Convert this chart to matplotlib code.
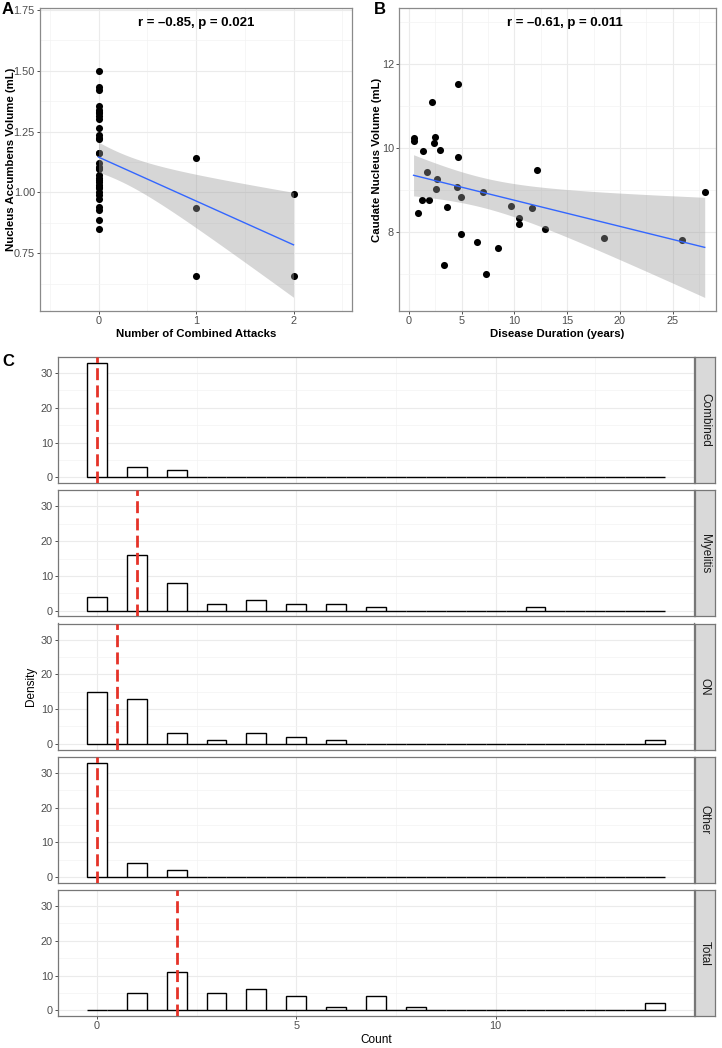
import numpy as np
import matplotlib
matplotlib.use('Agg')
import matplotlib.pyplot as plt
from math import lgamma, pi, exp, sqrt

plt.rcParams['font.family'] = ['Liberation Sans', 'DejaVu Sans']

# ---------------- data ----------------
# Panel A
attacks = [0] * 33 + [1] * 3 + [2] * 2
accumbens = [1.50, 1.433, 1.42, 1.356, 1.34, 1.326, 1.312, 1.30, 1.266, 1.236,
             1.225, 1.16, 1.12, 1.106, 1.096, 1.07, 1.058, 1.044, 1.03, 1.016,
             1.003, 0.989, 0.972, 0.941, 0.927, 0.886, 0.85,
             1.10, 1.05, 1.33, 1.22, 1.02, 1.16,
             1.14, 0.935, 0.655,
             0.995, 0.655]
label_a = "r = \u20130.85, p = 0.021"

# Panel B
duration = [0.44, 0.51, 0.85, 1.29, 1.20, 1.70, 1.89, 2.21, 2.46, 2.40, 2.65,
            2.59, 2.94, 3.35, 3.60, 4.61, 4.61, 4.58, 4.89, 4.89, 6.44, 7.04,
            7.26, 8.40, 9.69, 10.45, 10.45, 11.68, 12.12, 12.88, 18.47, 25.88, 28.03]
caudate = [10.24, 10.16, 8.45, 9.92, 8.77, 9.42, 8.75, 11.10, 10.25, 10.11, 9.26,
           9.03, 9.94, 7.21, 8.60, 11.53, 9.79, 9.08, 8.83, 7.96, 7.76, 8.94,
           7.00, 7.62, 8.62, 8.33, 8.19, 8.57, 9.48, 8.08, 7.85, 7.80, 8.96]
label_b = "r = \u20130.61, p = 0.011"

# Panel C: number of subjects with each attack count (0..14)
facet_names = ['Combined', 'Myelitis', 'ON', 'Other', 'Total']
count_values = list(range(15))
n_combined = [33, 3, 2, 0, 0, 0, 0, 0, 0, 0, 0, 0, 0, 0, 0]
n_myelitis = [4, 16, 8, 2, 3, 2, 2, 1, 0, 0, 0, 1, 0, 0, 0]
n_on = [15, 13, 3, 1, 3, 2, 1, 0, 0, 0, 0, 0, 0, 0, 1]
n_other = [33, 4, 2, 0, 0, 0, 0, 0, 0, 0, 0, 0, 0, 0, 0]
n_total = [0, 5, 11, 5, 6, 4, 1, 4, 1, 0, 0, 0, 0, 0, 2]
medians = [0, 1, 0.5, 0, 2]

# ---------------- helpers ----------------
W, H = 722, 1048
GRID_MAJ = '#EBEBEB'
GRID_MIN = '#F3F3F3'
BORDER = '#8a8a8a'
TICKC = '#4D4D4D'


def t_ppf975(df):
    c = exp(lgamma((df + 1) / 2) - lgamma(df / 2)) / sqrt(df * pi)
    ts = np.linspace(0, 6, 60001)
    pdf = c * (1 + ts ** 2 / df) ** (-(df + 1) / 2)
    cdf = 0.5 + np.concatenate([[0], np.cumsum((pdf[1:] + pdf[:-1]) / 2 * np.diff(ts))])
    return float(np.interp(0.975, cdf, ts))


def lm_band(x, y, n=80):
    x = np.asarray(x, float)
    y = np.asarray(y, float)
    b1, b0 = np.polyfit(x, y, 1)
    resid = y - (b0 + b1 * x)
    df = len(x) - 2
    s = np.sqrt(np.sum(resid ** 2) / df)
    xg = np.linspace(x.min(), x.max(), n)
    sxx = np.sum((x - x.mean()) ** 2)
    se = s * np.sqrt(1 / len(x) + (xg - x.mean()) ** 2 / sxx)
    t = t_ppf975(df)
    yg = b0 + b1 * xg
    return xg, yg, yg - t * se, yg + t * se


def px_axes(fig, left, top, right, bottom):
    return fig.add_axes([left / W, 1 - bottom / H, (right - left) / W, (bottom - top) / H])


def style_axes(ax, fs_tick):
    for sp in ax.spines.values():
        sp.set_color(BORDER)
        sp.set_linewidth(0.9)
    ax.grid(True, which='major', color=GRID_MAJ, lw=0.8, zorder=0)
    ax.grid(True, which='minor', color=GRID_MIN, lw=0.5, zorder=0)
    ax.set_axisbelow(True)
    ax.tick_params(which='major', length=2.2, width=0.6, color='#333333',
                   labelcolor=TICKC, labelsize=fs_tick, pad=1.5)
    ax.tick_params(which='minor', length=0)


fig = plt.figure(figsize=(W / 100, H / 100), dpi=100)

# ---------------- Panel A ----------------
axA = px_axes(fig, 40, 8, 352, 311)
style_axes(axA, 7.8)
axA.scatter(attacks, accumbens, s=26, color='black', zorder=2, linewidths=0)
xg, yg, lo, hi = lm_band(attacks, accumbens)
axA.fill_between(xg, lo, hi, color='#999999', alpha=0.4, lw=0, zorder=3)
axA.plot(xg, yg, color='#3366FF', lw=1.0, zorder=4)
axA.set_xlim(-0.6, 2.6)
axA.set_ylim(0.512, 1.758)
axA.set_xticks([0, 1, 2])
axA.set_xticks([-0.5, 0.5, 1.5, 2.5], minor=True)
axA.set_yticks([0.75, 1.0, 1.25, 1.5, 1.75])
axA.set_yticklabels(['0.75', '1.00', '1.25', '1.50', '1.75'])
axA.set_yticks([0.625, 0.875, 1.125, 1.375, 1.625], minor=True)
axA.text(1, 1.697, label_a, ha='center', va='center', fontsize=9.5, fontweight='bold')
axA.set_xlabel('Number of Combined Attacks', fontsize=8.2, fontweight='bold', labelpad=2)
axA.set_ylabel('Nucleus Accumbens Volume (mL)', fontsize=8.2, fontweight='bold', labelpad=-1.5)
fig.text(2 / W, 1 - 10 / H, 'A', fontsize=12, fontweight='bold', va='center', ha='left')

# ---------------- Panel B ----------------
axB = px_axes(fig, 399, 8, 716, 311)
style_axes(axB, 7.8)
axB.scatter(duration, caudate, s=26, color='black', zorder=2, linewidths=0)
xg, yg, lo, hi = lm_band(duration, caudate)
axB.fill_between(xg, lo, hi, color='#999999', alpha=0.4, lw=0, zorder=3)
axB.plot(xg, yg, color='#3366FF', lw=1.0, zorder=4)
axB.set_xlim(-0.94, 29.1)
axB.set_ylim(6.12, 13.33)
axB.set_xticks([0, 5, 10, 15, 20, 25])
axB.set_xticks([2.5, 7.5, 12.5, 17.5, 22.5, 27.5], minor=True)
axB.set_yticks([8, 10, 12])
axB.set_yticks([7, 9, 11, 13], minor=True)
axB.text(14.8, 12.98, label_b, ha='center', va='center', fontsize=9.5, fontweight='bold')
axB.set_xlabel('Disease Duration (years)', fontsize=8.2, fontweight='bold', labelpad=2)
axB.set_ylabel('Caudate Nucleus Volume (mL)', fontsize=8.2, fontweight='bold', labelpad=0)
fig.text(374 / W, 1 - 10 / H, 'B', fontsize=12, fontweight='bold', va='center', ha='left')

# ---------------- Panel C ----------------
facet_counts = [n_combined, n_myelitis, n_on, n_other, n_total]
bin_edges = np.arange(-0.25, 14.26, 0.5)
tops = [357, 490.3, 623.5, 756.8, 890]
ph = 126
for i, name in enumerate(facet_names):
    ax = px_axes(fig, 58, tops[i], 694, tops[i] + ph)
    style_axes(ax, 7.8)
    for sp in ax.spines.values():
        sp.set_color('#777777')
    ax.hist(count_values, bins=bin_edges, weights=facet_counts[i], histtype='bar',
            facecolor='white', edgecolor='black', linewidth=1.0, zorder=2)
    ax.axvline(medians[i], color='#E53228', lw=2.0, dashes=(4.3, 1.9), zorder=3)
    ax.set_xlim(-0.975, 14.975)
    ax.set_ylim(-1.65, 34.65)
    ax.set_xticks([0, 5, 10])
    ax.set_xticks([2.5, 7.5, 12.5], minor=True)
    ax.set_yticks([0, 10, 20, 30])
    ax.set_yticks([5, 15, 25], minor=True)
    if i < len(facet_names) - 1:
        ax.tick_params(axis='x', which='major', length=0, labelbottom=False)
    else:
        ax.set_xlabel('Count', fontsize=8.5, labelpad=2)
    if i == 2:
        ax.set_ylabel('Density', fontsize=8.5, labelpad=3)
    sax = px_axes(fig, 695, tops[i], 715, tops[i] + ph)
    sax.set_facecolor('#D9D9D9')
    sax.set_xticks([])
    sax.set_yticks([])
    for sp in sax.spines.values():
        sp.set_color('#777777')
        sp.set_linewidth(0.9)
    sax.text(0.5, 0.5, name, rotation=270, ha='center', va='center',
             fontsize=8.5, color='#1A1A1A', transform=sax.transAxes)

fig.text(2 / W, 1 - 362 / H, 'C', fontsize=12, fontweight='bold', va='center', ha='left')

fig.savefig('out.png', dpi=100)
